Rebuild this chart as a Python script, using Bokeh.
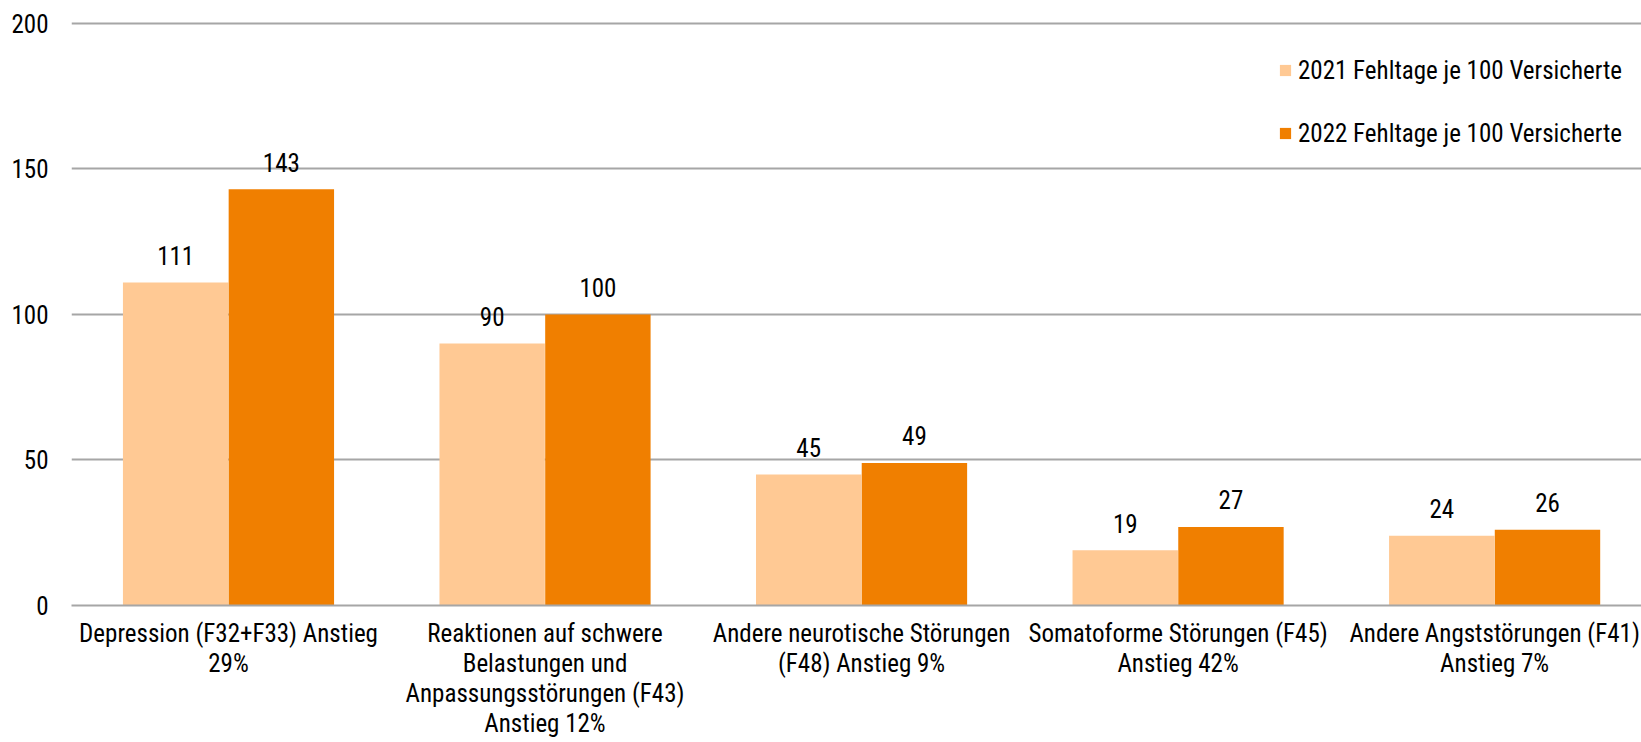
from bokeh.plotting import figure
from bokeh.models import Range1d, FixedTicker, ColumnDataSource, Legend, LegendItem
from bokeh.core.properties import value
from bokeh.embed import file_html
from bokeh.resources import INLINE
import numpy as np

categories = [
    "Depression (F32+F33) Anstieg\n29%",
    "Reaktionen auf schwere\nBelastungen und\nAnpassungsstörungen (F43)\nAnstieg 12%",
    "Andere neurotische Störungen\n(F48) Anstieg 9%",
    "Somatoforme Störungen (F45)\nAnstieg 42%",
    "Andere Angststörungen (F41)\nAnstieg 7%",
]
values_2021 = [111, 90, 45, 19, 24]
values_2022 = [143, 100, 49, 27, 26]
series_names = ["2021 Fehltage je 100 Versicherte", "2022 Fehltage je 100 Versicherte"]
y_ticks = [0, 50, 100, 150, 200]

FONT = "Roboto Condensed"
FS = "25px"
C21 = "#FFC994"
C22 = "#F07F00"
GRID = "#A6A6A6"

xs = np.arange(len(categories))
src = ColumnDataSource(dict(
    x21=xs - 0.167, x22=xs + 0.167,
    v21=values_2021, v22=values_2022,
    t21=[str(v) for v in values_2021], t22=[str(v) for v in values_2022],
))

p = figure(width=1641, height=742, output_backend="svg", toolbar_location=None,
           x_range=Range1d(-0.496, 4.464), y_range=Range1d(0, 201),
           min_border_left=71, min_border_right=0, min_border_top=20, min_border_bottom=137)
p.outline_line_color = None

r21 = p.vbar(x="x21", top="v21", width=0.333, source=src, color=C21, line_color=None)
r22 = p.vbar(x="x22", top="v22", width=0.333, source=src, color=C22, line_color=None)

for xcol, ycol, tcol in [("x21", "v21", "t21"), ("x22", "v22", "t22")]:
    p.text(x=xcol, y=ycol, text=tcol, source=src, text_align="center", text_baseline="alphabetic",
           y_offset=-27, text_font=value(FONT), text_font_size=FS, text_color="#000000")

# axes
p.xaxis.ticker = FixedTicker(ticks=list(xs))
p.xaxis.major_label_overrides = {int(i): c for i, c in zip(xs, categories)}
p.xaxis.major_tick_line_color = None
p.xaxis.minor_tick_line_color = None
p.xaxis.axis_line_color = GRID
p.xaxis.axis_line_width = 2
p.xaxis.major_label_standoff = 7
p.xaxis.major_label_text_line_height = 1.04
p.xaxis.major_label_text_font = FONT
p.xaxis.major_label_text_font_size = FS
p.xaxis.major_label_text_color = "#000000"

p.yaxis.ticker = FixedTicker(ticks=y_ticks)
p.yaxis.major_tick_line_color = None
p.yaxis.minor_tick_line_color = None
p.yaxis.axis_line_color = None
p.yaxis.major_label_standoff = 17
p.yaxis.major_label_text_font = FONT
p.yaxis.major_label_text_font_size = FS
p.yaxis.major_label_text_color = "#000000"

p.xgrid.grid_line_color = None
p.ygrid.ticker = FixedTicker(ticks=y_ticks)
p.ygrid.grid_line_color = GRID
p.ygrid.grid_line_width = 2

legend = Legend(items=[LegendItem(label=series_names[0], renderers=[r21]),
                       LegendItem(label=series_names[1], renderers=[r22])],
                location=(1207, 457), padding=0, margin=0, spacing=33,
                label_height=30, glyph_height=14, glyph_width=14, label_standoff=6,
                label_text_font=FONT, label_text_font_size=FS, label_text_color="#000000",
                border_line_color=None, background_fill_alpha=0)
p.add_layout(legend)

open("out.html", "w").write(file_html(p, INLINE))
